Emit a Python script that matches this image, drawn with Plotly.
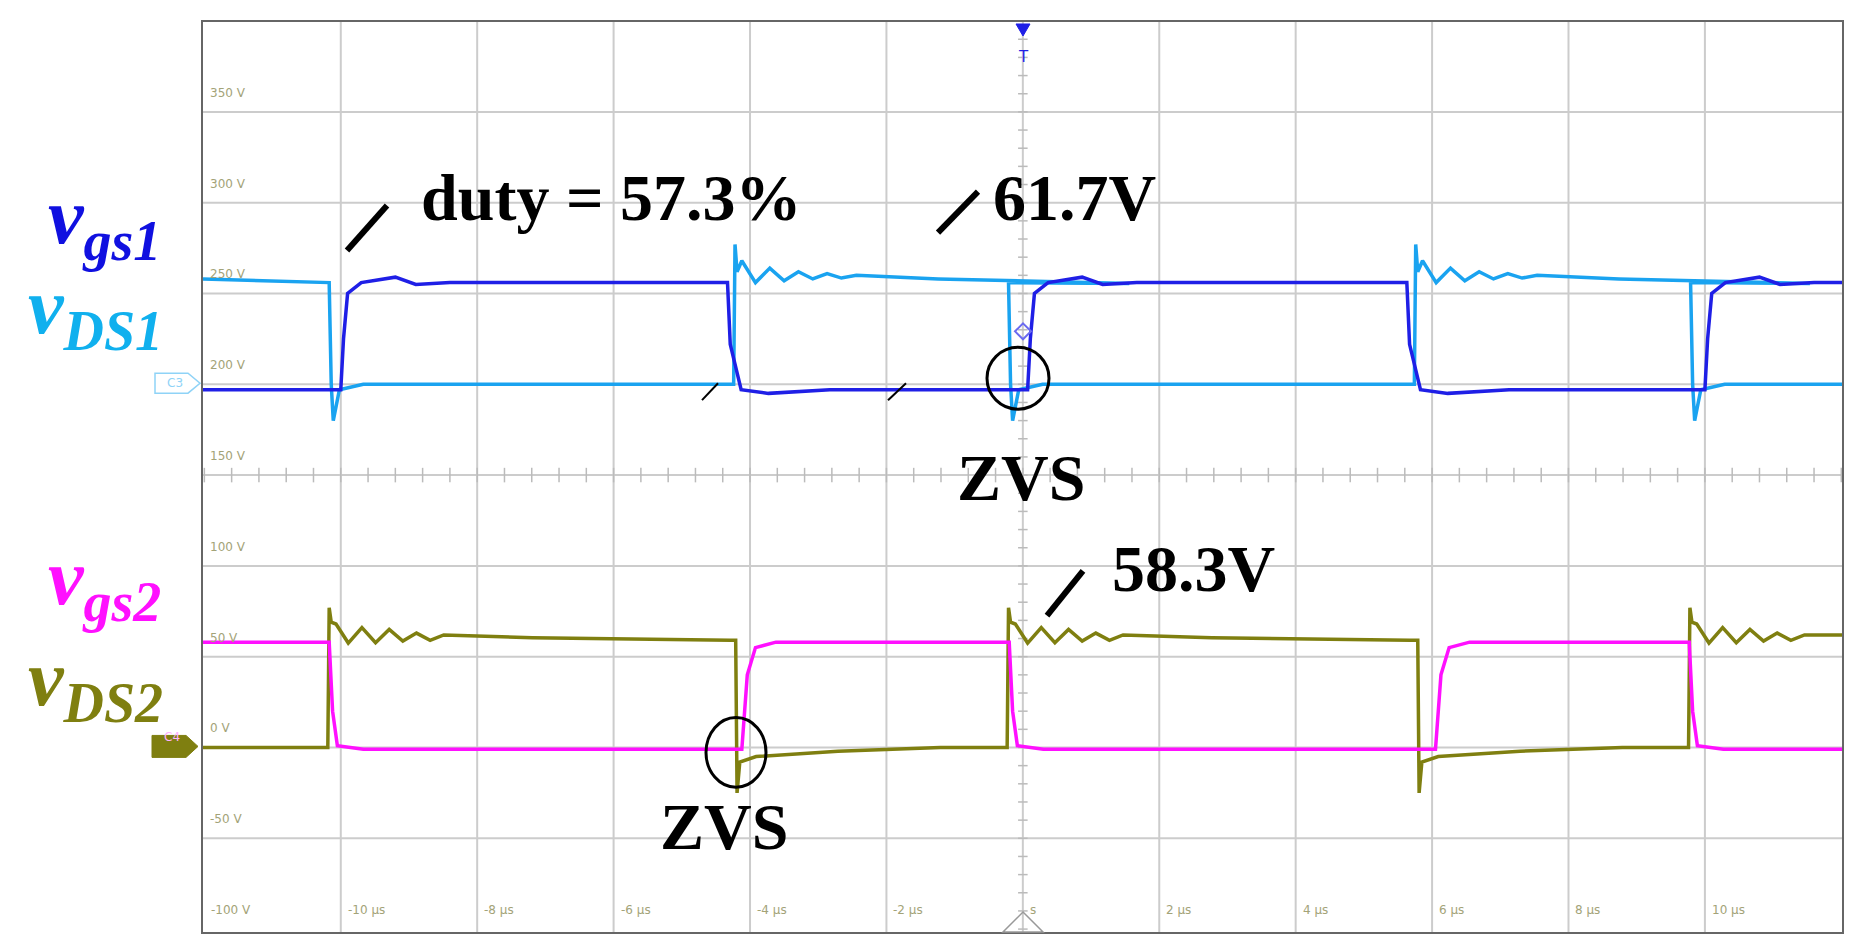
import plotly.graph_objects as go

# -----------------------------
# data (time in us, voltage in V)
# -----------------------------
# edge times
VGS1_RISE = [-10.0, 0.07, 10.0]
VGS1_FALL = [-4.33, 5.63]
VDS1_FALL = [-10.17, -0.21, 9.79]
VDS1_RISE = [-4.24, 5.74]
VGS2_FALL = [-10.17, -0.20, 9.77]
VGS2_RISE = [-4.12, 6.05]
VDS2_RISE = [-10.19, -0.23, 9.76]
VDS2_FALL = [-4.21, 5.79]

# edge shapes: offset after the edge (us) and level (V)
VGS1_UP_DT = [0, 0.04, 0.1, 0.3, 0.8, 1.1, 1.6]
VGS1_UP_V = [197, 225, 250, 256, 259, 255, 256]
VGS1_DN_DT = [0, 0.04, 0.2, 0.6, 1.5]
VGS1_DN_V = [256, 222, 197, 195, 197]
VDS1_DN_DT = [0, 0.03, 0.06, 0.15, 0.5]
VDS1_DN_V = [256, 200, 180, 197, 200]
VDS1_UP_DT = [0, 0.02, 0.05, 0.12, 0.32, 0.53, 0.74, 0.95, 1.16, 1.37, 1.58, 1.8, 3.0, 5.8]
VDS1_UP_V = [200, 277, 262, 268, 256, 264, 257, 262, 258, 261, 258.5, 260, 258, 255.5]

VGS2_DN_DT = [0, 0.05, 0.12, 0.5]
VGS2_DN_V = [58, 20, 1, -1]
VGS2_UP_DT = [0, 0.08, 0.2, 0.5]
VGS2_UP_V = [-1, 40, 55, 58]
VDS2_UP_DT = [0, 0.02, 0.05, 0.12, 0.3, 0.5, 0.7, 0.9, 1.1, 1.3, 1.5, 1.7, 3.0, 5.9]
VDS2_UP_V = [0, 77, 69, 68, 57.5, 66, 57.7, 65, 58.6, 63, 59, 62, 60.5, 59]
VDS2_DN_DT = [0, 0.02, 0.06, 0.3, 1.5, 3.0]
VDS2_DN_V = [59, -25, -8, -5, -2, 0]

Y_TICKS = [350, 300, 250, 200, 150, 100, 50, 0, -50]
X_TICKS = [-10, -8, -6, -4, -2, 2, 4, 6, 8, 10]

X_RANGE = [-12.02, 12.01]
Y_RANGE = [-101.6, 399.5]


def build(start_level, edges):
    # edges: list of (time, dt list, v list)
    xs, ys = [X_RANGE[0]], [start_level]
    for t, dts, vs in sorted(edges, key=lambda e: e[0]):
        for d, v in zip(dts, vs):
            if t + d <= X_RANGE[1]:
                xs.append(t + d)
                ys.append(v)
    xs.append(X_RANGE[1])
    ys.append(ys[-1])
    return xs, ys


vgs1 = build(197, [(t, VGS1_UP_DT, VGS1_UP_V) for t in VGS1_RISE] +
             [(t, VGS1_DN_DT, VGS1_DN_V) for t in VGS1_FALL])
vds1 = build(258, [(t, VDS1_DN_DT, VDS1_DN_V) for t in VDS1_FALL] +
             [(t, VDS1_UP_DT, VDS1_UP_V) for t in VDS1_RISE])
vgs2 = build(58, [(t, VGS2_DN_DT, VGS2_DN_V) for t in VGS2_FALL] +
             [(t, VGS2_UP_DT, VGS2_UP_V) for t in VGS2_RISE])
vds2 = build(0, [(t, VDS2_UP_DT, VDS2_UP_V) for t in VDS2_RISE] +
             [(t, VDS2_DN_DT, VDS2_DN_V) for t in VDS2_FALL])

# screen pixel -> paper helpers (plot area 203..1842 x 20..932 on screen)
L, R, T, B = 203, 1842, 20, 932
OFF = 8  # page body margin


def px(x):
    return (x - L) / (R - L)


def py(y):
    return (B - y) / (B - T)


fig = go.Figure()
fig.add_trace(go.Scatter(x=vds1[0], y=vds1[1], mode="lines", line=dict(color="#1aa3f0", width=3.5)))
fig.add_trace(go.Scatter(x=vgs1[0], y=vgs1[1], mode="lines", line=dict(color="#1f1fe6", width=3.5)))
fig.add_trace(go.Scatter(x=vds2[0], y=vds2[1], mode="lines", line=dict(color="#7f7f10", width=3.5)))
fig.add_trace(go.Scatter(x=vgs2[0], y=vgs2[1], mode="lines", line=dict(color="#ff10ff", width=3.5)))

shapes = []
grid = dict(color="#cccccc", width=2)
for xv in X_TICKS + [0]:
    shapes.append(dict(type="line", xref="x", yref="paper", x0=xv, x1=xv, y0=0, y1=1, line=grid, layer="below"))
for yv in Y_TICKS:
    shapes.append(dict(type="line", xref="paper", yref="y", x0=0, x1=1, y0=yv, y1=yv, line=grid, layer="below"))
# minor ticks on the centre lines
for i in range(-30, 31):
    xv = i * 0.4
    if X_RANGE[0] < xv < X_RANGE[1]:
        shapes.append(dict(type="line", xref="x", yref="y", x0=xv, x1=xv, y0=146, y1=154,
                           line=dict(color="#bbbbbb", width=1.5), layer="below"))
for i in range(-10, 41):
    yv = i * 10
    shapes.append(dict(type="line", xref="x", yref="y", x0=-0.07, x1=0.07, y0=yv, y1=yv,
                       line=dict(color="#bbbbbb", width=1.5), layer="below"))

# hand-drawn slashes and circles
for x0, y0, x1, y1, w in [(347, 249, 387, 204, 6), (938, 231, 978, 190, 6), (1047, 615, 1083, 570, 6),
                          (702, 399, 718, 382, 2), (888, 399, 906, 382, 2)]:
    shapes.append(dict(type="line", xref="paper", yref="paper", x0=px(x0), y0=py(y0), x1=px(x1), y1=py(y1),
                       line=dict(color="black", width=w)))
for cx, cy, rx, ry in [(1018, 377, 31, 31), (736, 752, 30, 35)]:
    shapes.append(dict(type="circle", xref="paper", yref="paper", x0=px(cx - rx), x1=px(cx + rx),
                       y0=py(cy + ry), y1=py(cy - ry), line=dict(color="black", width=3)))


# channel markers, trigger marks
def path(pts):
    return "M " + " L ".join(f"{px(a)},{py(b)}" for a, b in pts) + " Z"


shapes.append(dict(type="path", xref="paper", yref="paper",
                   path=path([(155, 372), (188, 372), (200, 382), (188, 392), (155, 392)]),
                   line=dict(color="#8fd3f7", width=1.5), fillcolor="rgba(0,0,0,0)"))
shapes.append(dict(type="path", xref="paper", yref="paper",
                   path=path([(152, 735), (186, 735), (198, 746), (186, 757), (152, 757)]),
                   line=dict(color="#7f7f10", width=1), fillcolor="#7f7f10"))
shapes.append(dict(type="path", xref="paper", yref="paper",
                   path=path([(1016, 22), (1030, 22), (1023, 34)]),
                   line=dict(color="#1f1fe6", width=1), fillcolor="#1f1fe6"))
shapes.append(dict(type="path", xref="paper", yref="paper",
                   path=path([(1023, 322), (1031, 330), (1023, 338), (1015, 330)]),
                   line=dict(color="#6a6af0", width=2), fillcolor="rgba(0,0,0,0)"))
shapes.append(dict(type="path", xref="paper", yref="paper",
                   path=path([(1023, 912), (1043, 932), (1003, 932)]),
                   line=dict(color="#999999", width=1.5), fillcolor="rgba(0,0,0,0)"))

ann = []
lab = dict(family="DejaVu Sans", size=12, color="#a3a378")
for yv in Y_TICKS:
    ann.append(dict(xref="paper", yref="y", x=px(208), y=yv, yshift=10, text=f"{yv} V",
                    showarrow=False, xanchor="left", yanchor="bottom", font=lab))
ann.append(dict(xref="paper", yref="paper", x=px(209), y=py(910), text="-100 V",
                showarrow=False, xanchor="left", yanchor="middle", font=lab))
for xv in X_TICKS:
    ann.append(dict(xref="x", yref="paper", x=xv, y=py(910), xshift=5, text=f"{xv} µs",
                    showarrow=False, xanchor="left", yanchor="middle", font=lab))
ann.append(dict(xref="paper", yref="paper", x=px(1028), y=py(910), text="s",
                showarrow=False, xanchor="left", yanchor="middle", font=lab))
ann.append(dict(xref="paper", yref="paper", x=px(1023), y=py(44), text="T", xanchor="center",
                showarrow=False, font=dict(family="DejaVu Sans", size=15, color="#1f1fe6")))
ann.append(dict(xref="paper", yref="paper", x=px(175), y=py(382), text="C3", xanchor="center",
                showarrow=False, font=dict(family="DejaVu Sans", size=12, color="#8fd3f7")))
ann.append(dict(xref="paper", yref="paper", x=px(172), y=py(746), text="C4", xanchor="center",
                showarrow=False, font=dict(family="DejaVu Sans", size=12, color="#ffb0ff")))

serif = "Liberation Serif"
for text, x, y, col in [("v<sub>gs1</sub>", 104, 220, "#1010e0"), ("v<sub>DS1</sub>", 95, 311, "#10b0ee"),
                        ("v<sub>gs2</sub>", 104, 582, "#ff10ff"), ("v<sub>DS2</sub>", 95, 683, "#7f7f10")]:
    ann.append(dict(xref="paper", yref="paper", x=px(x), y=py(y), text=f"<b><i>{text}</i></b>",
                    xanchor="center", yanchor="middle",
                    showarrow=False, font=dict(family=serif, size=80, color=col)))
for text, x, y in [("duty = 57.3%", 611, 196), ("61.7V", 1074, 196), ("58.3V", 1193, 568),
                   ("ZVS", 1021, 476), ("ZVS", 724, 826)]:
    ann.append(dict(xref="paper", yref="paper", x=px(x), y=py(y), text=f"<b>{text}</b>",
                    xanchor="center", yanchor="middle",
                    showarrow=False, font=dict(family=serif, size=66, color="black")))

fig.update_layout(
    width=1857, height=938,
    margin=dict(l=L - OFF, r=1857 - R + OFF, t=T - OFF, b=938 - B + OFF),
    paper_bgcolor="white", plot_bgcolor="white",
    showlegend=False, shapes=shapes, annotations=ann,
    xaxis=dict(range=X_RANGE, showgrid=False, zeroline=False, showticklabels=False,
               showline=True, mirror=True, linecolor="#666666", linewidth=2),
    yaxis=dict(range=Y_RANGE, showgrid=False, zeroline=False, showticklabels=False,
               showline=True, mirror=True, linecolor="#666666", linewidth=2),
)

fig.write_html("out.html")
